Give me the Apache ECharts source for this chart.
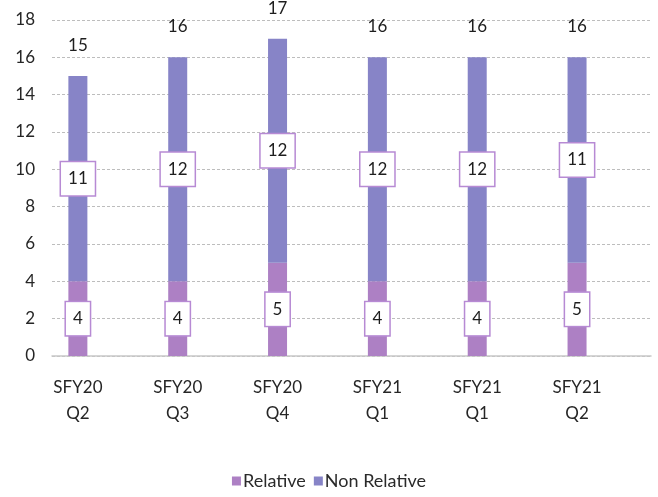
<!DOCTYPE html>
<html><head><meta charset="utf-8">
<script src="https://cdn.jsdelivr.net/npm/echarts@6/dist/echarts.min.js"></script>
<style>html,body{margin:0;padding:0;background:#fff}#c{width:658px;height:497px}</style>
</head><body><div id="c"></div>
<script>
const categories = ['SFY20\nQ2','SFY20\nQ3','SFY20\nQ4','SFY21\nQ1','SFY21\nQ1','SFY21\nQ2'];
const relative = [4,4,5,4,4,5];
const nonRelative = [11,12,12,12,12,11];
const totals = relative.map((v,i)=>v+nonRelative[i]);
const yTicks = {min:0,max:18,interval:2};

const FONT = 'Lato';
const boxLabel = {
  show:true, position:'inside', color:'#1e1e1e', fontFamily:FONT, fontSize:17,
  backgroundColor:'#fff', borderColor:'#b78ad4', borderWidth:1.5,
  padding:[8,7,7,7], lineHeight:18
};
const chart = echarts.init(document.getElementById('c'));
chart.setOption({
  animation:false,
  textStyle:{fontFamily:FONT},
  grid:{left:52,right:7,top:20,bottom:141},
  legend:{data:['Relative','Non Relative'],bottom:2,left:'center',itemWidth:9,itemHeight:9,itemGap:8,
    icon:'rect',textStyle:{fontFamily:FONT,fontSize:18,color:'#2a2a2a',padding:[0,0,0,-3]}},
  xAxis:{type:'category',data:categories,
    axisLine:{show:true,lineStyle:{color:'#c8c8c8',width:1.5}},axisTick:{show:false},
    axisLabel:{color:'#262626',fontSize:17,fontFamily:FONT,lineHeight:26,margin:19,padding:[0,48,0,0]}},
  yAxis:{type:'value',min:yTicks.min,max:yTicks.max,interval:yTicks.interval,
    axisLine:{show:false},axisTick:{show:false},
    axisLabel:{color:'#262626',fontSize:17,fontFamily:FONT,margin:17},
    splitLine:{lineStyle:{color:'#bdbdbd',type:[3,2],width:1}}},
  series:[
    {name:'Relative',type:'bar',stack:'a',barWidth:19,barGap:'153%',data:relative,
      itemStyle:{color:'#ad80c4'},label:boxLabel},
    {name:'Non Relative',type:'bar',stack:'a',barWidth:19,data:nonRelative,
      itemStyle:{color:'#8784c7'},label:boxLabel},
    {name:'Total',type:'bar',stack:'a',barWidth:19,data:totals.map(()=>0),
      itemStyle:{color:'transparent'},
      label:{show:true,position:'top',distance:22,color:'#1e1e1e',fontFamily:FONT,fontSize:17,
        formatter:p=>String(totals[p.dataIndex])}},
    {name:'spacer',type:'bar',stack:'b',barWidth:19,data:categories.map(()=>null)}
  ]
});
</script></body></html>
